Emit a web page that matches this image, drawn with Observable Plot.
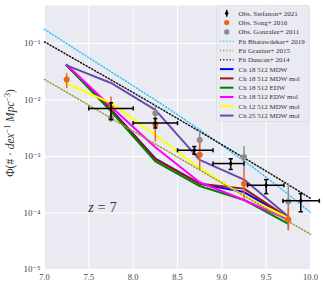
<!DOCTYPE html>
<html><head><meta charset="utf-8">
<script src="https://cdn.jsdelivr.net/npm/d3@7"></script>
<script src="https://cdn.jsdelivr.net/npm/@observablehq/plot@0.6"></script>
<style>body{margin:0;background:#fff} #chart svg{display:block}</style>
</head><body><div id="chart"></div>
<script>
// ---- data ----
const xTicks = [7.0, 7.5, 8.0, 8.5, 9.0, 9.5, 10.0];
const yTicks = [1e-5, 1e-4, 1e-3, 1e-2, 1e-1];

const simX = [7.25, 7.75, 8.25, 8.75, 9.25, 9.75];
const ch18MDW    = [0.041, 0.0068, 0.00092, 0.00033, 0.000235, 0.000083];
const ch18MDWmol = [0.041, 0.0067, 0.00090, 0.00033, 0.00027, 0.000082];
const ch18EDW    = [0.041, 0.0063, 0.00082, 0.00030, 0.00017, 0.000064];
const ch18EDWmol = [0.042, 0.0076, 0.00146, 0.00035, 0.00017, 0.000076];
const ch12MDWmol = [0.0196, 0.0088, 0.0024, 0.00062, 0.00020, 0.000082];
const ch25MDWmol = [0.041, 0.020, 0.0067, 0.00087, 0.00039, 0.000087];

const fitX = [7.0, 7.5, 8.0, 8.5, 9.0, 9.5, 10.0];
const fitBhatawdekar = [0.178, 0.056, 0.0178, 0.0055, 0.00158, 0.00043, 0.000102];
const fitGrazian     = [0.0231, 0.0081, 0.0028, 0.00098, 0.00034, 0.00012, 0.000042];
const fitDuncan      = [0.107, 0.038, 0.0135, 0.0047, 0.00162, 0.00055, 0.000182];

const stefX   = [7.75, 8.25, 8.69, 9.10, 9.50, 9.89];
const stefXlo = [7.5, 8.0, 8.5, 8.9, 9.29, 9.69];
const stefXhi = [8.0, 8.5, 8.9, 9.25, 9.70, 10.1];
const stefY   = [0.0071, 0.0039, 0.00129, 0.00075, 0.00031, 0.000164];
const stefYlo = [0.0045, 0.0032, 0.0011, 0.00059, 0.00022, 0.000105];
const stefYhi = [0.0089, 0.0047, 0.0015, 0.00091, 0.00039, 0.00022];

const songX   = [7.25, 7.75, 8.25, 8.75, 9.25, 9.75];
const songY   = [0.023, 0.0072, 0.0037, 0.00107, 0.00033, 0.000077];
const songYlo = [0.0159, 0.0047, 0.0018, 0.00058, 0.000174, 0.000048];
const songYhi = [0.0295, 0.0113, 0.0050, 0.0017, 0.00054, 0.00012];

const gonzX   = [7.75, 8.25, 8.75, 9.25, 9.75];
const gonzY   = [0.0048, 0.0058, 0.00195, 0.00098, 0.00016];
const gonzYlo = [0.0040, 0.0040, 0.0011, 0.00054, 0.00005];
const gonzYhi = [0.0058, 0.0078, 0.0029, 0.00148, 0.00033];

const simSeries = [
  {name: "Ch 18 512 MDW", vals: ch18MDW, color: "#0000ff"},
  {name: "Ch 18 512 MDW mol", vals: ch18MDWmol, color: "#a31515"},
  {name: "Ch 18 512 EDW", vals: ch18EDW, color: "#008000"},
  {name: "Ch 18 512 EDW mol", vals: ch18EDWmol, color: "#ff00ff"},
  {name: "Ch 12 512 MDW mol", vals: ch12MDWmol, color: "#ffff00"},
  {name: "Ch 25 512 MDW mol", vals: ch25MDWmol, color: "#6a4aab"}
];
const fitSeries = [
  {name: "Fit Bhatawdekar+ 2019", vals: fitBhatawdekar, color: "#33c6f5"},
  {name: "Fit Grazian+ 2015", vals: fitGrazian, color: "#9a9a30"},
  {name: "Fit Duncan+ 2014", vals: fitDuncan, color: "#111111"}
];
const obsNames = ["Obs. Stefanon+ 2021", "Obs. Song+ 2016", "Obs. Gonzalez+ 2011"];
const orange = "#e8661c", gray = "#8c8c8c";
const dots = "1.1,2.1";

// ---- tables ----
const simRows = simSeries.flatMap((s, k) => simX.map((x, i) => ({x, y: s.vals[i], k})));
const fitRows = fitSeries.flatMap((s, k) => fitX.map((x, i) => ({x, y: s.vals[i], k})));
const stef = stefX.map((x, i) => ({x, y: stefY[i], x1: stefXlo[i], x2: stefXhi[i], y1: stefYlo[i], y2: stefYhi[i]}));
const song = songX.map((x, i) => ({x, y: songY[i], y1: songYlo[i], y2: songYhi[i]}));
const gonz = gonzX.map((x, i) => ({x, y: gonzY[i], y1: gonzYlo[i], y2: gonzYhi[i]}));

const capH = {draw(c, size) { const w = Math.sqrt(size / Math.PI); c.moveTo(-w, 0); c.lineTo(w, 0); }};
const capV = {draw(c, size) { const w = Math.sqrt(size / Math.PI); c.moveTo(0, -w); c.lineTo(0, w); }};
const thinDiamond = {draw(c, size) { const r = Math.sqrt(size / Math.PI); c.moveTo(0, -r); c.lineTo(r * 0.62, 0); c.lineTo(0, r); c.lineTo(-r * 0.62, 0); c.closePath(); }};

const sup = {"-": "\u207b", "1": "\u00b9", "2": "\u00b2", "3": "\u00b3", "4": "\u2074", "5": "\u2075", "0": "\u2070"};
const fmtPow = d => "10" + String(Math.round(Math.log10(d))).split("").map(ch => sup[ch]).join("");

const plot = Plot.plot({
  width: 323, height: 287,
  marginLeft: 44, marginRight: 13, marginTop: 5, marginBottom: 18,
  x: {domain: [7, 10]},
  y: {type: "log", domain: [1e-5, 0.47]},
  style: {fontFamily: "'Liberation Serif', 'DejaVu Serif', serif", background: "white", overflow: "visible"},
  marks: [
    Plot.frame({fill: "#eaeaf2", stroke: null}),
    Plot.gridX(xTicks, {stroke: "white", strokeOpacity: 1, strokeWidth: 1}),
    Plot.gridY(yTicks, {stroke: "white", strokeOpacity: 1, strokeWidth: 1}),
    Plot.axisX(xTicks, {tickSize: 0, tickPadding: 4, tickFormat: d3.format(".1f"), fontSize: 8.5, color: "#444", label: null}),
    Plot.axisY(yTicks, {tickSize: 0, tickPadding: 4, tickFormat: fmtPow, fontSize: 9, color: "#444", label: null}),
    ...simSeries.map((s, k) => Plot.line(simRows.filter(r => r.k === k), {x: "x", y: "y", stroke: s.color, strokeWidth: 2})),
    ...fitSeries.map((s, k) => Plot.line(fitRows.filter(r => r.k === k), {x: "x", y: "y", curve: "monotone-x", stroke: s.color, strokeWidth: 1.5, strokeDasharray: dots})),
    // Gonzalez
    Plot.ruleX(gonz, {x: "x", y1: "y1", y2: "y2", stroke: gray, strokeWidth: 1.5}),
    Plot.dot(gonz, {x: "x", y: "y", r: 3, fill: gray}),
    // Song
    Plot.ruleX(song, {x: "x", y1: "y1", y2: "y2", stroke: orange, strokeWidth: 1.5}),
    Plot.dot(song, {x: "x", y: "y", r: 3, fill: orange}),
    // Stefanon
    Plot.ruleX(stef, {x: "x", y1: "y1", y2: "y2", stroke: "black", strokeWidth: 1.5}),
    Plot.ruleY(stef, {y: "y", x1: "x1", x2: "x2", stroke: "black", strokeWidth: 1.5}),
    Plot.dot(stef, {x: "x", y: "y1", symbol: capH, r: 2.1, stroke: "black", strokeWidth: 1.5}),
    Plot.dot(stef, {x: "x", y: "y2", symbol: capH, r: 2.1, stroke: "black", strokeWidth: 1.5}),
    Plot.dot(stef, {x: "x1", y: "y", symbol: capV, r: 2.1, stroke: "black", strokeWidth: 1.5}),
    Plot.dot(stef, {x: "x2", y: "y", symbol: capV, r: 2.1, stroke: "black", strokeWidth: 1.5}),
    Plot.dot(stef, {x: "x", y: "y", symbol: thinDiamond, r: 2.2, fill: "black", stroke: "black", strokeWidth: 1})
  ]
});
document.getElementById("chart").append(plot);

const svg = d3.select(plot);
const sx = plot.scale("x"), sy = plot.scale("y");

// z = 7 annotation
const zt = svg.append("text").attr("x", sx.apply(7.5)).attr("y", sy.apply(1.0e-4))
  .attr("text-anchor", "start")
  .attr("font-size", 14).attr("fill", "#333").attr("font-family", "'Liberation Serif', serif");
zt.append("tspan").attr("font-style", "italic").text("z");
zt.append("tspan").attr("dx", 4).text("=");
zt.append("tspan").attr("dx", 4).text("7");

// y-axis label
const yl = svg.append("text").attr("transform", "translate(14,133) rotate(-90)")
  .attr("text-anchor", "middle").attr("font-size", 11.5).attr("fill", "#333")
  .attr("font-family", "'Liberation Serif', serif");
yl.append("tspan").text("\u03a6(# \u00b7 ");
yl.append("tspan").attr("font-style", "italic").text("dex");
yl.append("tspan").attr("font-size", 8).attr("dy", -4).text("\u22121");
yl.append("tspan").attr("dy", 4).attr("font-style", "italic").text(" Mpc");
yl.append("tspan").attr("font-size", 8).attr("dy", -4).text("\u22123");
yl.append("tspan").attr("dy", 4).text(")");

// legend
const lg = svg.append("g").attr("font-family", "'Liberation Serif', serif").attr("font-size", 7)
  .attr("fill", "#333").attr("text-anchor", "start");
lg.append("rect").attr("x", 216.5).attr("y", 5.5).attr("width", 92.5).attr("height", 116)
  .attr("fill", "#eaeaf2").attr("fill-opacity", 0.8).attr("stroke", "#dcdce6").attr("stroke-width", 0.8).attr("rx", 2);
const rowY = i => 13.3 + i * 9.3;
const hx1 = 220, hx2 = 233.5, hxm = 226.7, tx = 238.5;
// obs handles
lg.append("line").attr("x1", hxm).attr("x2", hxm).attr("y1", rowY(0) - 3.5).attr("y2", rowY(0) + 3.5).attr("stroke", "black").attr("stroke-width", 1.3);
lg.append("path").attr("d", `M${hxm},${rowY(0) - 3}L${hxm + 1.9},${rowY(0)}L${hxm},${rowY(0) + 3}L${hxm - 1.9},${rowY(0)}Z`).attr("fill", "black");
lg.append("circle").attr("cx", hxm).attr("cy", rowY(1)).attr("r", 2.6).attr("fill", orange);
lg.append("circle").attr("cx", hxm).attr("cy", rowY(2)).attr("r", 2.6).attr("fill", gray);
obsNames.forEach((n, i) => lg.append("text").attr("x", tx).attr("y", rowY(i)).attr("dy", "0.35em").text(n));
fitSeries.forEach((s, k) => {
  const y = rowY(3 + k);
  lg.append("line").attr("x1", hx1).attr("x2", hx2).attr("y1", y).attr("y2", y).attr("stroke", s.color).attr("stroke-width", 1.5).attr("stroke-dasharray", dots);
  lg.append("text").attr("x", tx).attr("y", y).attr("dy", "0.35em").text(s.name);
});
simSeries.forEach((s, k) => {
  const y = rowY(6 + k);
  lg.append("line").attr("x1", hx1).attr("x2", hx2).attr("y1", y).attr("y2", y).attr("stroke", s.color).attr("stroke-width", 2);
  lg.append("text").attr("x", tx).attr("y", y).attr("dy", "0.35em").text(s.name);
});
</script></body></html>
